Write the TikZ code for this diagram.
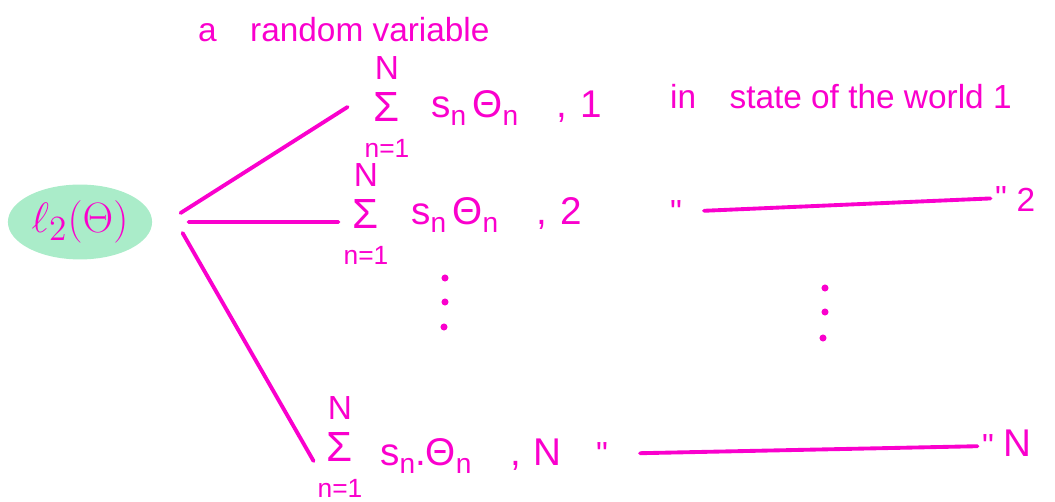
\documentclass[tikz,border=0pt]{standalone}
\usepackage{fontspec}
\setmainfont{Liberation Sans}
\usetikzlibrary{shapes.geometric}
\definecolor{ink}{RGB}{250,0,205}
\definecolor{leaf}{RGB}{170,236,201}
\newcommand{\lowr}[1]{\raisebox{-0.35ex}{\fontsize{16}{16}\selectfont #1}}
\newcommand{\limstack}{N\\[2pt]{\fontsize{24}{24}\selectfont Σ}\\[-2pt]{\fontsize{15}{15}\selectfont n=1}}
\tikzset{
    hand/.style={text=ink,font=\fontsize{19}{22}\selectfont},
    limits/.style={hand,align=center,inner sep=1pt},
    term/.style={hand,anchor=west,font=\fontsize{22}{24}\selectfont},
    wire/.style={ink,line width=2.2pt,line cap=round},
    ditto/.style={hand,inner sep=1pt}
}
\begin{document}
\begin{tikzpicture}[x=0.02cm,y=-0.02cm]
    \useasboundingbox (0,0) rectangle (1055,502);

    % Heading
    \node[hand,anchor=west] (head) at (192,30) {a\quad random variable};

    % Left blob
    \node[ellipse,fill=leaf,scale=1.4,inner sep=0pt,minimum width=2.06cm,minimum height=1.07cm,hand] (ell) at (80,222) {$\ell_2(\Theta)$};

    % Sums
    \node[limits] (lim1) at (387,107) {\limstack};
    \node[term] (t1) at (425,108) {s\lowr{n}\,Θ\lowr{n}\quad ,\,\,1};
    \node[limits] (lim2) at (366,214) {\limstack};
    \node[term] (t2) at (405,215) {s\lowr{n}\,Θ\lowr{n}\quad ,\,\,2};
    \node[limits] (limN) at (340,447) {\limstack};
    \node[term] (tN) at (374,456) {s\lowr{n}.Θ\lowr{n}\quad ,\,\,N};

    % Fan
    \draw[wire] ([xshift=0.56cm,yshift=0.18cm]ell.east) -- ([xshift=-0.3cm,yshift=0cm]lim1.west);
    \draw[wire] ([xshift=0.72cm]ell.east) -- ([xshift=-0.06cm,yshift=-0.16cm]lim2.west);
    \draw[wire] ([xshift=0.6cm,yshift=-0.22cm]ell.east) -- ([xshift=-0.04cm,yshift=-0.28cm]limN.west);

    % Dots
    \fill[ink] (445,278) circle (2pt) (445,302) circle (2pt) (444,327) circle (2pt);
    \fill[ink] (825,288) circle (2pt) (825,312) circle (2pt) (823,338) circle (2pt);

    % States of the world
    \node[hand,anchor=west] (w1) at (664,97) {in\quad state of the world 1};

    \node[ditto] (d2a) at (676,212) {\textquotedbl};
    \node[ditto] (d2b) at (1001,198) {\textquotedbl};
    \node[hand] (w2) at (1026,200) {2};
    \draw[wire,shorten <=0.4cm,shorten >=0.05cm] (d2a) -- (d2b);

    \node[ditto] (dNa) at (602,454) {\textquotedbl};
    \node[ditto] (dNb) at (988,446) {\textquotedbl};
    \node[hand,font=\fontsize{22}{24}\selectfont] (wN) at (1017,443) {N};
    \draw[wire,shorten <=0.6cm,shorten >=0.05cm] (dNa) -- (dNb);
\end{tikzpicture}
\end{document}
